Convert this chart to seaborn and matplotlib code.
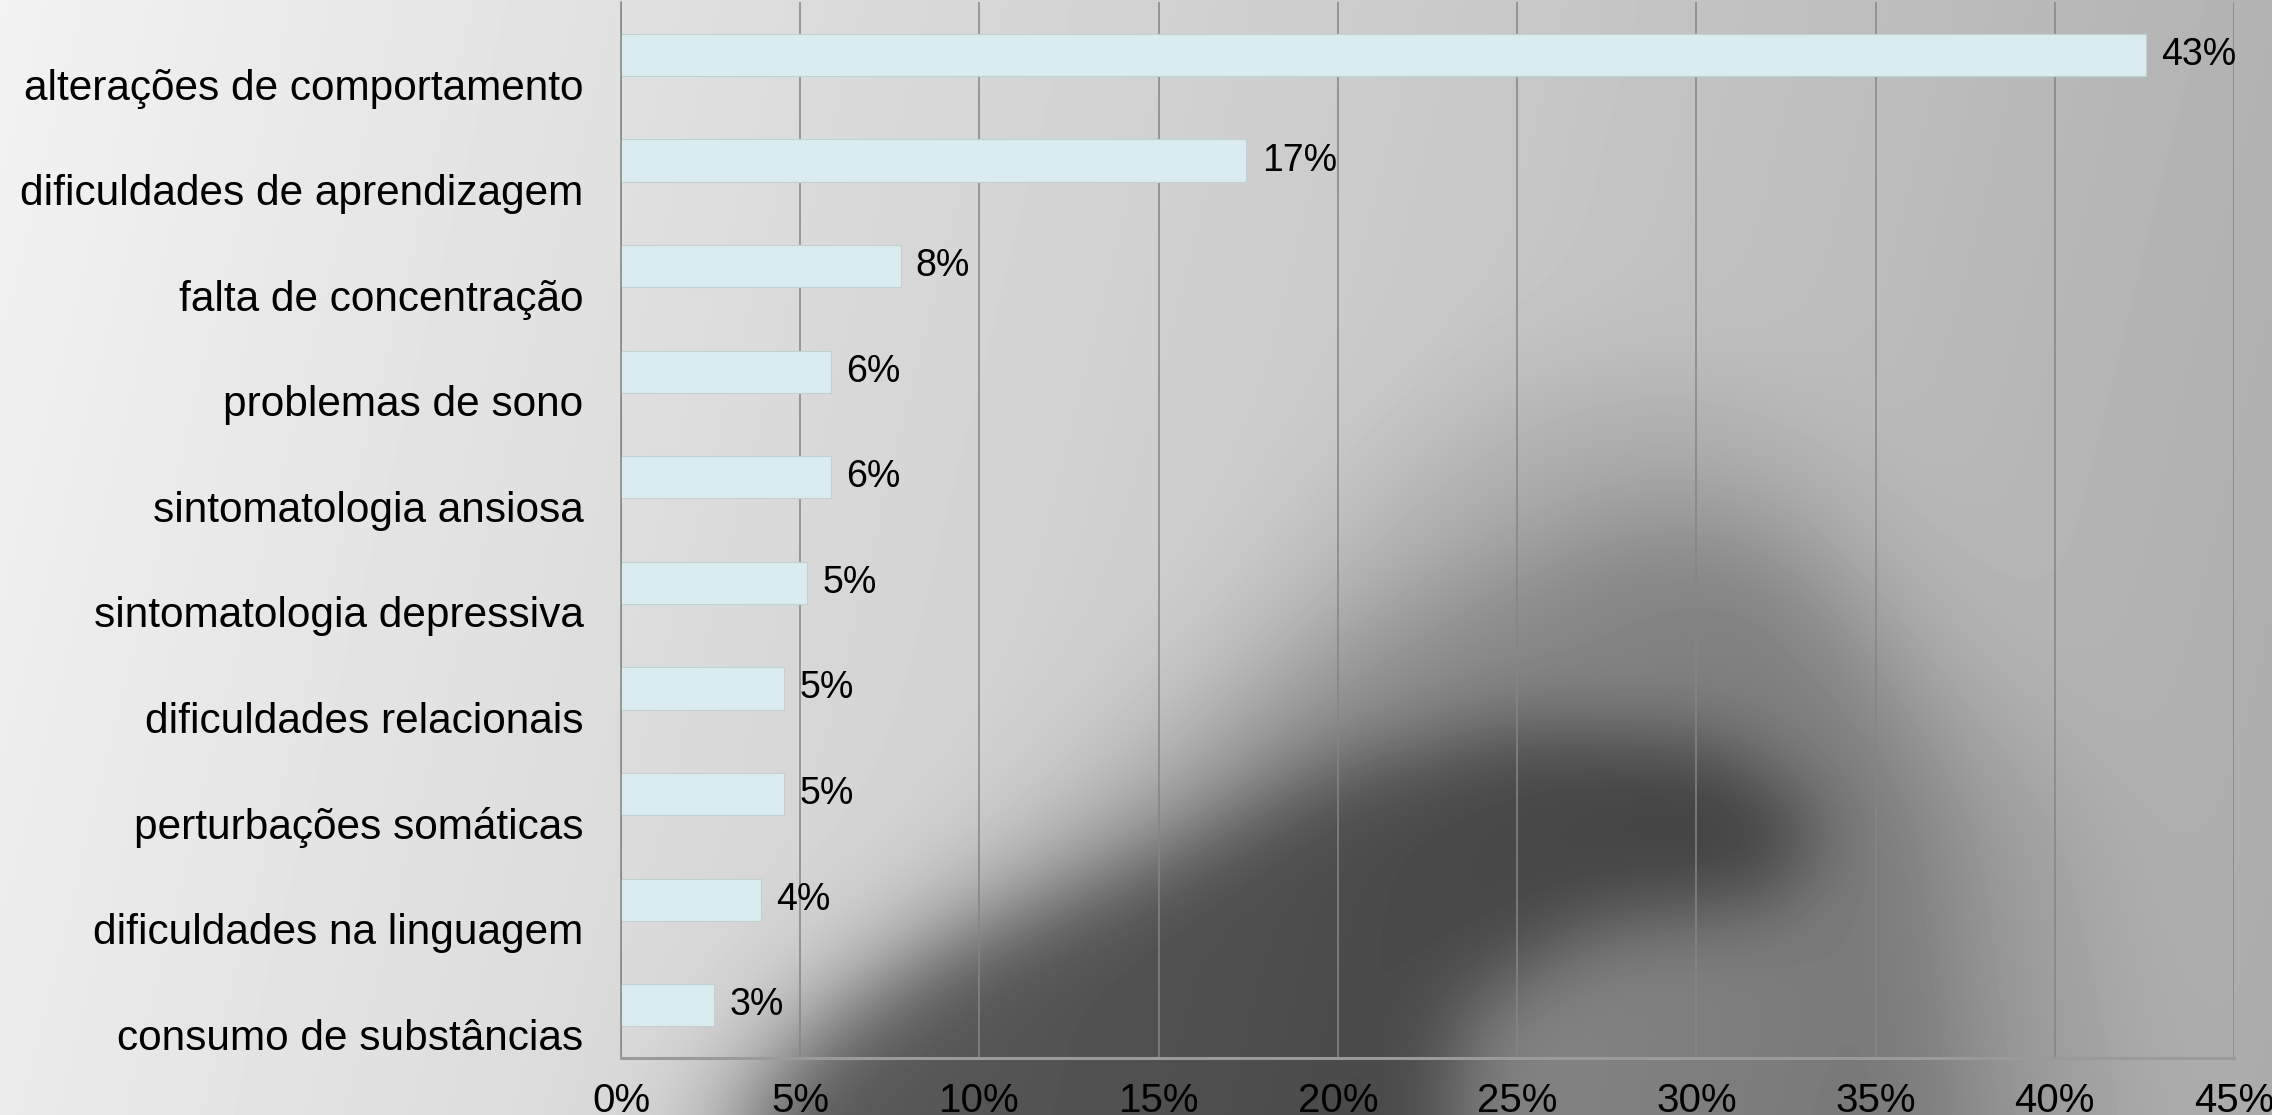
import numpy as np
import pandas as pd
import matplotlib
matplotlib.use("Agg")
import matplotlib.pyplot as plt
import seaborn as sns
from matplotlib.path import Path
from matplotlib.transforms import ScaledTranslation

# ---------------- data ----------------
categories = [
    "alterações de comportamento",
    "dificuldades de aprendizagem",
    "falta de concentração",
    "problemas de sono",
    "sintomatologia ansiosa",
    "sintomatologia depressiva",
    "dificuldades relacionais",
    "perturbações somáticas",
    "dificuldades na linguagem",
    "consumo de substâncias",
]
values = [42.55, 17.45, 7.8, 5.85, 5.85, 5.2, 4.55, 4.55, 3.9, 2.6]
value_labels = ["43%", "17%", "8%", "6%", "6%", "5%", "5%", "5%", "4%", "3%"]
x_ticks = [0, 5, 10, 15, 20, 25, 30, 35, 40, 45]
x_tick_labels = ["0%", "5%", "10%", "15%", "20%", "25%", "30%", "35%", "40%", "45%"]

# ---------------- style ----------------
sns.set_theme(style="white")
plt.rcParams["font.family"] = ["Liberation Sans", "DejaVu Sans"]

W_PX, H_PX = 2272, 1115
fig = plt.figure(figsize=(W_PX / 100, H_PX / 100), dpi=100)

# ---------------- decorative background (photo-like gray) ----------------
gw, gh = 392, 193
gx = np.linspace(0, 1568, gw)
gy = np.linspace(0, 770, gh)
GX, GY = np.meshgrid(gx, gy)
pts = np.c_[GX.ravel(), GY.ravel()]
base = 0.95 - 0.25 * (GX / 1568) - 0.03 * (GY / 770)

def blur(a, s):
    r = int(3 * s)
    k = np.exp(-0.5 * (np.arange(-r, r + 1) / s) ** 2)
    k /= k.sum()
    p = np.pad(a, r, mode="edge")
    p = np.apply_along_axis(lambda m: np.convolve(m, k, mode="same"), 1, p)
    p = np.apply_along_axis(lambda m: np.convolve(m, k, mode="same"), 0, p)
    return p[r:-r, r:-r]

# light-medium hump
poly0 = [(440, 800), (560, 680), (700, 580), (850, 450), (960, 330), (1060, 270),
         (1170, 270), (1260, 330), (1340, 450), (1430, 560), (1460, 800)]
# medium-gray body
poly1 = [(460, 800), (560, 700), (680, 620), (784, 566), (924, 450), (1049, 390),
         (1140, 360), (1230, 380), (1290, 460), (1340, 560), (1360, 800)]
# dark core
poly2 = [(500, 800), (560, 720), (650, 660), (784, 602), (924, 530), (1049, 501),
         (1184, 512), (1259, 566), (1234, 620), (1100, 640), (1010, 700), (1000, 800)]
m0 = Path(poly0).contains_points(pts).reshape(GX.shape).astype(float)
m1 = Path(poly1).contains_points(pts).reshape(GX.shape).astype(float)
m2 = Path(poly2).contains_points(pts).reshape(GX.shape).astype(float)
img = base - 0.10 * blur(m0, 11) - 0.14 * blur(m1, 9) - 0.24 * blur(m2, 7)
img = np.clip(img, 0, 1)

bg_ax = fig.add_axes([0, 0, 1, 1], zorder=-10)
bg_ax.imshow(img, cmap="gray", vmin=0, vmax=1, extent=[0, 1, 0, 1],
             aspect="auto", origin="upper", interpolation="bilinear")
bg_ax.set_axis_off()

# ---------------- main chart ----------------
left, right, bottom, top = 621, 2234, 1058, 0
ax = fig.add_axes([left / W_PX, (H_PX - bottom) / H_PX,
                   (right - left) / W_PX, (bottom - top) / H_PX - 0.002])
ax.set_facecolor("none")

df = pd.DataFrame({"categoria": categories, "valor": values})
sns.barplot(data=df, x="valor", y="categoria", orient="h", color="#DAECEF",
            saturation=1, width=0.4, edgecolor="#c2d0d2", linewidth=0.8, ax=ax)

ax.set_xlim(0, 45)
ax.set_ylim(len(categories) - 0.5, -0.5)
ax.set_xticks(x_ticks)
ax.set_xticklabels(x_tick_labels)
ax.set_xlabel("")
ax.set_ylabel("")
ax.xaxis.grid(True, color="#858585", linewidth=1.1)
ax.yaxis.grid(False)
ax.set_axisbelow(True)

for side in ["top", "right"]:
    ax.spines[side].set_visible(False)
ax.spines["left"].set_color("#858585")
ax.spines["left"].set_linewidth(1.1)
ax.spines["bottom"].set_color("#9a9a9a")
ax.spines["bottom"].set_linewidth(2.2)

ax.tick_params(axis="y", length=0, pad=27, labelsize=30.5, labelcolor="black")
ax.tick_params(axis="x", length=0, pad=17, labelsize=29, labelcolor="black")

offset = ScaledTranslation(0, -29 / 100, fig.dpi_scale_trans)
for lbl in ax.get_yticklabels():
    lbl.set_transform(lbl.get_transform() + offset)

ax.bar_label(ax.containers[0], labels=value_labels, padding=11, fontsize=27,
             color="black")

fig.savefig("out.png", dpi=100)
